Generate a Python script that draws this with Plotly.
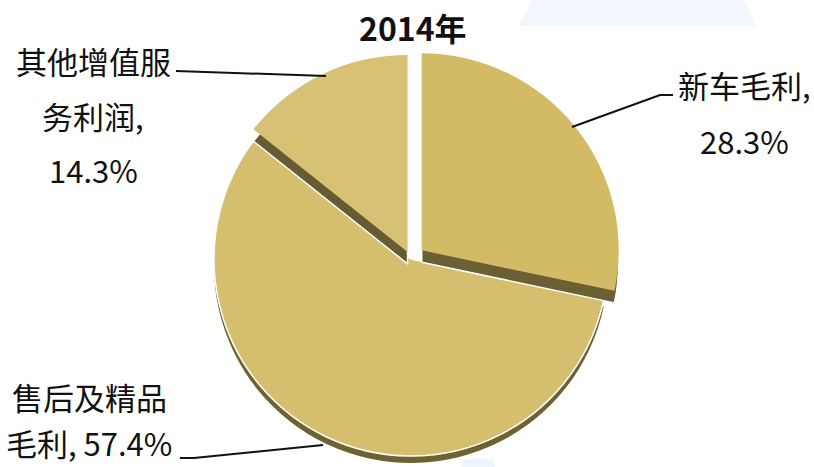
import plotly.graph_objects as go

# ---- data -------------------------------------------------------------
title_text = "2014年"
categories = ["新车毛利", "售后及精品毛利", "其他增值服务利润"]
shares = [28.3, 57.4, 14.3]          # percent of total gross profit

# ---- style / layout ---------------------------------------------------
W, H = 814, 490                       # canvas (page crops the bottom)
CX, CY, R = 411, 259, 197             # pie centre and radius in px
pulls = [0.07, 0.0, 0.04]
depth_small, depth_big = 12, 7        # visible thickness of the 3‑D sides

top_colors = ["#D3BB66", "#D5BF6F", "#D6C174"]
side_colors = ["#6A6034", "#6E6330", "#655C33"]
CLEAR = "rgba(0,0,0,0)"
FONT = "Noto Sans CJK SC"

# label lines: where each "name, value%" string is wrapped, and line centres
wraps = {0: [5], 1: [5], 2: [5, 9]}
label_pos = {
    0: (744, [85, 140]),
    1: (89, [396, 442]),
    2: (93, [61, 115, 170]),
}
leaders = {
    0: [(572, 127), (660, 95), (673, 95)],
    1: [(180, 458), (194, 458), (323, 445)],
    2: [(176, 71), (326, 76)],
}


def px(x):
    return x / W


def py(y):
    return 1 - y / H


max_pull = max(pulls)
box_w = 2 * R * (1 + max_pull)
half_h = box_w / 2 + 3


def domain(shift):
    top, bottom = CY + shift - half_h, CY + shift + half_h
    return dict(x=[px(CX - box_w / 2), px(CX + box_w / 2)],
                y=[max(0.0, py(bottom)), min(1.0, py(top))])


def pie(colors, line_w, shift, name):
    return go.Pie(
        labels=categories, values=shares, sort=False,
        direction="clockwise", rotation=0, pull=pulls,
        marker=dict(colors=colors,
                    line=dict(color="white", width=line_w)),
        textinfo="none", hoverinfo="skip", showlegend=False,
        domain=domain(shift), name=name,
    )


n = len(categories)
big = 1
fig = go.Figure()
# side of the large slice, then its top face
fig.add_trace(pie([side_colors[i] if i == big else CLEAR for i in range(n)],
                  [0] * n, depth_big, "side-big"))
fig.add_trace(pie([top_colors[i] if i == big else CLEAR for i in range(n)],
                  [1.5 if i == big else 0 for i in range(n)], 0, "top-big"))
# sides of the pulled slices, then their top faces
fig.add_trace(pie([CLEAR if i == big else side_colors[i] for i in range(n)],
                  [0 if i == big else 1.5 for i in range(n)], depth_small,
                  "side-small"))
fig.add_trace(pie([CLEAR if i == big else top_colors[i] for i in range(n)],
                  [0] * n, 0, "top-small"))

annotations = [dict(
    text=f"<b>{title_text}</b>", x=px(413), y=py(27), xref="paper",
    yref="paper", showarrow=False, xanchor="center", yanchor="middle",
    font=dict(family=FONT, size=32, color="#111111"))]

shapes = [
    dict(type="path", xref="paper", yref="paper", layer="below",
         path=f"M {px(519)},{py(26)} L {px(532)},{py(0)} L {px(744)},{py(0)} "
              f"L {px(755)},{py(26)} Z",
         fillcolor="#F1F7FD", line=dict(width=0)),
    dict(type="path", xref="paper", yref="paper", layer="below",
         path=f"M {px(463)},{py(459)} L {px(493)},{py(459)} L {px(496)},{py(470)} "
              f"L {px(460)},{py(470)} Z",
         fillcolor="#EEF5FC", line=dict(width=0)),
]

for i, (name, val) in enumerate(zip(categories, shares)):
    full = f"{name}, {val:.1f}%"
    cuts = [0] + wraps[i] + [len(full)]
    lines = [full[a:b].strip() for a, b in zip(cuts[:-1], cuts[1:])]
    x, ys = label_pos[i]
    for line, y in zip(lines, ys):
        annotations.append(dict(
            text=line, x=px(x), y=py(y), xref="paper", yref="paper",
            showarrow=False, xanchor="center", yanchor="middle",
            font=dict(family=FONT, size=31, color="#111111")))
    pts = leaders[i]
    path = "M " + " L ".join(f"{px(a)},{py(b)}" for a, b in pts)
    shapes.append(dict(type="path", xref="paper", yref="paper", path=path,
                       line=dict(color="#111111", width=2)))

fig.update_layout(
    width=W, height=H,
    margin=dict(l=0, r=0, t=0, b=0),
    paper_bgcolor="white", plot_bgcolor="white",
    annotations=annotations, shapes=shapes,
)

fig.write_html(
    "out.html",
    config={"displayModeBar": False},
    post_script="document.documentElement.style.overflow='hidden';"
                "document.body.style.overflow='hidden';"
                "document.body.style.margin='0';",
)
